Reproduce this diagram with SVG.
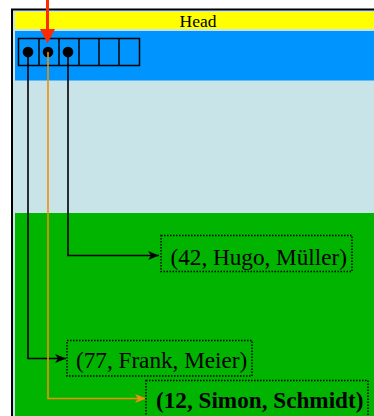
<svg xmlns="http://www.w3.org/2000/svg" width="374" height="416" viewBox="0 0 374 416">
<defs>
<style>
.lbl{font-family:"Liberation Serif","Times New Roman",serif;font-size:23.2px;fill:#000}
.box{fill:none;stroke:#000;stroke-width:1.5;stroke-dasharray:1.5 1.5}
.conn{fill:none;stroke:#000;stroke-width:1.6}
.org{fill:none;stroke:#f0900a;stroke-width:1.6}
.cell{fill:none;stroke:#000;stroke-width:1.5}
</style>
<marker id="ab" markerWidth="11" markerHeight="9" refX="11" refY="4.5" orient="auto" markerUnits="userSpaceOnUse">
<path d="M0,0 L11,4.5 L0,9 L3,4.5 Z" fill="#000"/>
</marker>
<marker id="ao" markerWidth="11" markerHeight="9" refX="11" refY="4.5" orient="auto" markerUnits="userSpaceOnUse">
<path d="M0,0 L11,4.5 L0,9 L3,4.5 Z" fill="#f0900a"/>
</marker>
</defs>
<rect x="0" y="0" width="374" height="416" fill="#fff"/>
<g id="frame">
<rect x="12" y="9.5" width="380" height="420" fill="#c8e4e8" stroke="#000" stroke-width="2"/>
<rect x="15" y="12" width="370" height="17" fill="#ffff00"/>
<text x="198" y="27" text-anchor="middle" font-family="Liberation Serif, Times New Roman, serif" font-size="17.5">Head</text>
<rect x="15" y="31" width="370" height="49.5" fill="#0094ff"/>
<rect x="15" y="213" width="370" height="210" fill="#00b400"/>
</g>
<g id="array">
<rect class="cell" x="18.5" y="38.5" width="121" height="27"/>
<line class="cell" x1="39" y1="38.5" x2="39" y2="65.5"/>
<line class="cell" x1="59" y1="38.5" x2="59" y2="65.5"/>
<line class="cell" x1="79" y1="38.5" x2="79" y2="65.5"/>
<line class="cell" x1="99" y1="38.5" x2="99" y2="65.5"/>
<line class="cell" x1="119" y1="38.5" x2="119" y2="65.5"/>
<circle cx="28" cy="52" r="5.3" fill="#000"/>
<circle cx="48" cy="52" r="5.3" fill="#000"/>
<circle cx="68" cy="52" r="5.3" fill="#000"/>
</g>
<g id="connectors">
<path class="conn" d="M68,52 V255.5 H159" marker-end="url(#ab)"/>
<path class="conn" d="M28,52 V358.5 H66" marker-end="url(#ab)"/>
<path class="org" d="M48,52 V398.5 H146" marker-end="url(#ao)"/>
<line x1="47.5" y1="0" x2="47.5" y2="32" stroke="#ff2a00" stroke-width="3"/>
<path d="M40,29 L47.5,43.5 L55,29 Z" fill="#ff2a00"/>
</g>
<g id="n42">
<rect class="box" x="161" y="235.5" width="191" height="36"/>
<text class="lbl" x="170.5" y="265">(42, Hugo, Müller)</text>
</g>
<g id="n77">
<rect class="box" x="67" y="340.5" width="185" height="35.5"/>
<text class="lbl" x="76" y="367.5">(77, Frank, Meier)</text>
</g>
<g id="n12">
<rect class="box" x="146" y="380.5" width="222" height="44"/>
<text class="lbl" x="156" y="407.5" font-weight="bold">(12, Simon, Schmidt)</text>
</g>
</svg>
